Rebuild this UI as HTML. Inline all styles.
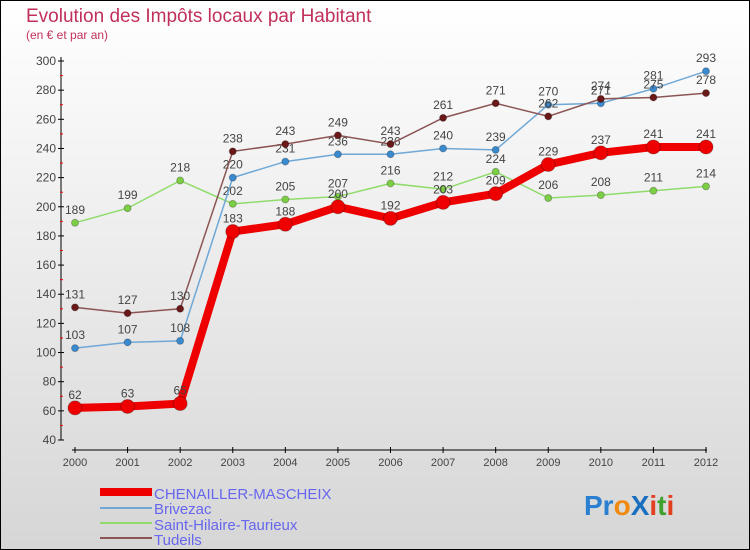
<!DOCTYPE html>
<html><head><meta charset="utf-8"><style>
body{margin:0}
#c{width:750px;height:550px;position:relative;overflow:hidden}
text{font-family:"Liberation Sans",sans-serif}
</style></head><body>
<div id="c">
<svg id="s" width="750" height="550" xmlns="http://www.w3.org/2000/svg">
<defs><linearGradient id="bg" x1="0" y1="0" x2="0" y2="1"><stop offset="0" stop-color="#ffffff"/><stop offset="1" stop-color="#d6d6d6"/></linearGradient></defs>
<rect x="0.5" y="0.5" width="749" height="549" fill="url(#bg)" stroke="#000"/>
<text x="26" y="22" font-size="19" fill="#c0305a">Evolution des Impôts locaux par Habitant</text>
<text x="26" y="39" font-size="12" fill="#c0305a">(en € et par an)</text>
<g id="axes"></g><g id="plot"></g>
<g>
<rect x="100" y="488" width="52" height="8" fill="#ee0000"/>
<line x1="100" y1="508" x2="152" y2="508" stroke="#6fa8d6" stroke-width="2"/>
<line x1="100" y1="523" x2="152" y2="523" stroke="#8fdc6a" stroke-width="2"/>
<line x1="100" y1="538" x2="152" y2="538" stroke="#8b5555" stroke-width="2"/>
<text x="154" y="499" font-size="15" fill="#6666ee">CHENAILLER-MASCHEIX</text>
<text x="154" y="514" font-size="15" fill="#6666ee">Brivezac</text>
<text x="154" y="530" font-size="15" fill="#6666ee">Saint-Hilaire-Taurieux</text>
<text x="154" y="545" font-size="15" fill="#6666ee">Tudeils</text>
</g>
<text x="584" y="515" font-size="28" font-weight="bold"><tspan fill="#2a7fd0">Pr</tspan><tspan fill="#f08a10">o</tspan><tspan fill="#1a6fc0">X</tspan><tspan fill="#e04020">i</tspan><tspan fill="#40a030">t</tspan><tspan fill="#e04020">i</tspan></text>
</svg></div>
<script>
const years=[2000,2001,2002,2003,2004,2005,2006,2007,2008,2009,2010,2011,2012];
const chenailler=[62,63,65,183,188,200,192,203,209,229,237,241,241];
const brivezac=[103,107,108,220,231,236,236,240,239,270,271,281,293];
const saintHilaire=[189,199,218,202,205,207,216,212,224,206,208,211,214];
const tudeils=[131,127,130,238,243,249,243,261,271,262,274,275,278];
const yTicks=[40,60,80,100,120,140,160,180,200,220,240,260,280,300];
const NS="http://www.w3.org/2000/svg";
const x=i=>75+i*(706-75)/12;
const y=v=>440-(v-40)*(379/260);
function mk(t,a,p){const e=document.createElementNS(NS,t);for(const k in a)e.setAttribute(k,a[k]);p.appendChild(e);return e;}
const ax=document.getElementById('axes'),pl=document.getElementById('plot');
let l=mk('line',{x1:61,y1:57,x2:61,y2:440,stroke:'#000'},ax);


l=mk('line',{x1:72,y1:450,x2:707,y2:450,stroke:'#000'},ax);


yTicks.forEach(v=>{
 mk('line',{x1:58,y1:y(v),x2:64,y2:y(v),stroke:'#000'},ax);
 if(v<300)mk('line',{x1:60,y1:y(v+10),x2:63,y2:y(v+10),stroke:'#e00'},ax);
 const t=mk('text',{x:56,y:y(v)+4,'font-size':12,fill:'#444','text-anchor':'end'},ax);t.textContent=v;
 
 
});
years.forEach((yr,i)=>{
 mk('line',{x1:x(i),y1:447,x2:x(i),y2:453,stroke:'#000'},ax);
 const t=mk('text',{x:x(i),y:466,'font-size':11,fill:'#444','text-anchor':'middle'},ax);t.textContent=yr;
 
 
});
function series(d,col,dot,w,r,name){
 const g=mk('g',{},pl);
 
 
 mk('polyline',{points:d.map((v,i)=>x(i)+','+y(v)).join(' '),fill:'none',stroke:col,'stroke-width':w},g);
 d.forEach((v,i)=>{
  const c=mk('circle',{cx:x(i),cy:y(v),r:r,fill:dot,stroke:'rgba(0,0,0,0.25)'},g);
  
  
  const t=mk('text',{x:x(i),y:y(v)-9,'font-size':12,fill:'#444','text-anchor':'middle'},g);t.textContent=v;
  
  
 });
}
series(saintHilaire,'#8fdc6a','#7ccf44',1.5,3.5,'saint-hilaire');
series(brivezac,'#6fa8d6','#3a8ad0',1.5,3.5,'brivezac');
series(tudeils,'#8b5555','#6a1818',1.5,3.5,'tudeils');
series(chenailler,'#ee0000','#ee0000',8,7,'chenailler');
</script>
</body></html>
